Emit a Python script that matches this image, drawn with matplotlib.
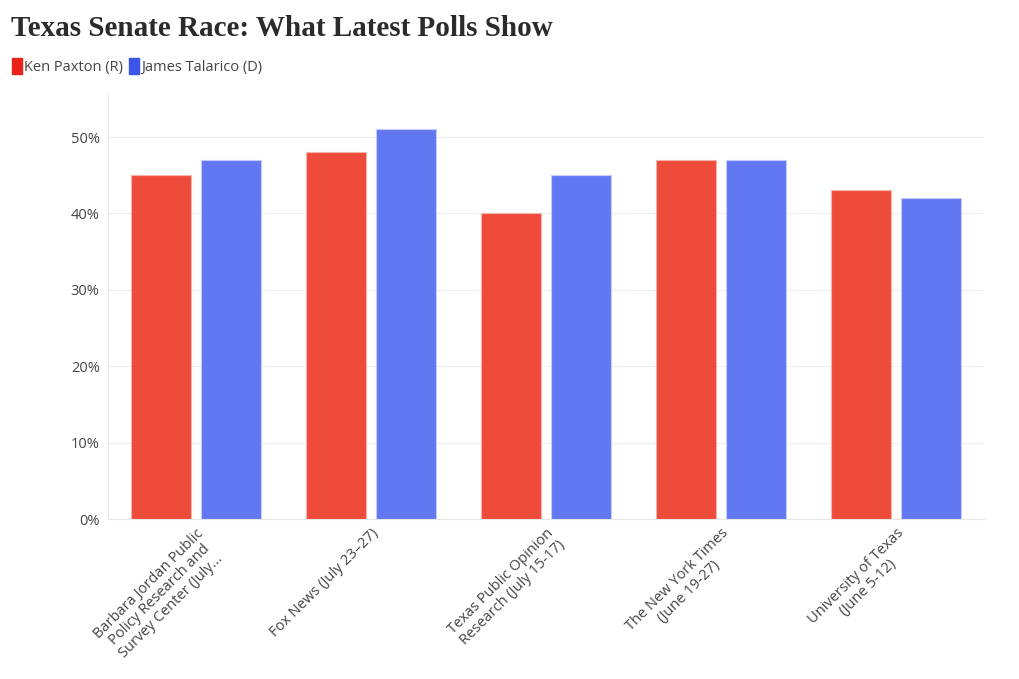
import numpy as np
import matplotlib.pyplot as plt
from matplotlib.lines import Line2D

polls = [
    "Barbara Jordan Public\nPolicy Research and\nSurvey Center (July...",
    "Fox News (July 23–27)",
    "Texas Public Opinion\nResearch (July 15-17)",
    "The New York Times\n(June 19-27)",
    "University of Texas\n(June 5-12)",
]
paxton = [45, 48, 40, 47, 43]
talarico = [47, 51, 45, 47, 42]

RED = "#EE4B3B"
BLUE = "#6278F2"
GRAY = "#444444"

plt.rcParams['font.family'] = ['Open Sans', 'DejaVu Sans']

fig = plt.figure(figsize=(10.2, 6.79), dpi=100)
ax = fig.add_axes([0.1059, 0.2356, 0.8588, 0.6245])

x = np.arange(len(polls))
w = 0.343
ax.bar(x - 0.2, paxton, width=w, color=RED, edgecolor="#f7b5ad", linewidth=0.8, zorder=3)
ax.bar(x + 0.2, talarico, width=w, color=BLUE, edgecolor="#c3ccfa", linewidth=0.8, zorder=3)

ax.set_xlim(-0.5, len(polls) - 0.5)
ax.set_ylim(0, 55.5)
ax.set_yticks([0, 10, 20, 30, 40, 50])
ax.set_yticklabels([f"{v}%" for v in [0, 10, 20, 30, 40, 50]], fontsize=10.5, color=GRAY)
ax.set_xticks(x)
ax.set_xticklabels(polls, rotation=45, ha='right', rotation_mode='anchor',
                   multialignment='center', fontsize=10.5, color=GRAY, linespacing=1.1)
ax.tick_params(axis='both', length=0, pad=6)
ax.tick_params(axis='x', pad=5)
ax.grid(axis='y', color="#eeeeee", linewidth=0.8, zorder=0)
for s in ['top', 'right']:
    ax.spines[s].set_visible(False)
for s in ['left', 'bottom']:
    ax.spines[s].set_color("#e6e6e6")
    ax.spines[s].set_linewidth(0.8)

fig.text(0.011, 0.958, "Texas Senate Race: What Latest Polls Show",
         family=['Liberation Serif'], fontweight='bold', fontsize=21, color="#2b2b2b", va='center')

# tall legend swatches
swatch = [(-0.33, -0.5), (0.33, -0.5), (0.33, 0.5), (-0.33, 0.5), (-0.33, -0.5)]
handles = [
    Line2D([], [], marker=swatch, linestyle='', markersize=11, color="#E8231A", label="Ken Paxton (R)"),
    Line2D([], [], marker=swatch, linestyle='', markersize=11, color="#3B55E6", label="James Talarico (D)"),
]
fig.legend(handles=handles, loc='center left', bbox_to_anchor=(0.0, 0.9), ncol=2, frameon=False,
           fontsize=10.5, handlelength=0.5, handletextpad=0.25, columnspacing=0.5, labelcolor=GRAY)

fig.savefig("out.png", dpi=100)
